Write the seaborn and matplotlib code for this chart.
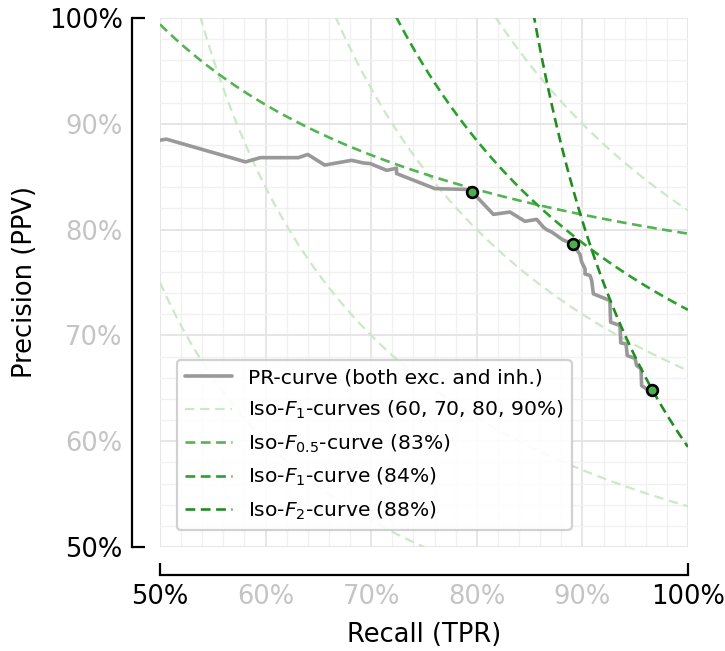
import numpy as np
import pandas as pd
import seaborn as sns
import matplotlib
matplotlib.use("Agg")
import matplotlib.pyplot as plt
from matplotlib.ticker import MultipleLocator

# ---------------- data ----------------
pr_recall = [0.500, 0.506, 0.581, 0.595, 0.631, 0.640, 0.656, 0.6815, 0.6925, 0.699,
             0.7147, 0.724, 0.724, 0.7604, 0.790, 0.7957, 0.8157, 0.8314, 0.8456,
             0.8567, 0.863, 0.866, 0.8709, 0.882, 0.8908, 0.8977, 0.8993, 0.9025,
             0.9025, 0.9072, 0.9088, 0.9104, 0.926, 0.9267, 0.9356, 0.9363, 0.9413,
             0.9425, 0.9498, 0.9514, 0.9555, 0.9561, 0.9609, 0.9662]
pr_precision = [0.8845, 0.8855, 0.864, 0.868, 0.868, 0.871, 0.861, 0.8655, 0.863, 0.8624,
                0.856, 0.858, 0.853, 0.8387, 0.838, 0.8355, 0.8144, 0.8166, 0.8078,
                0.8097, 0.8024, 0.800, 0.7977, 0.790, 0.7866, 0.7765, 0.7694, 0.763,
                0.758, 0.7566, 0.7519, 0.7393, 0.733, 0.7125, 0.7093, 0.6929, 0.692,
                0.6809, 0.6783, 0.6714, 0.6686, 0.6525, 0.6493, 0.6487]

opt_recall = [0.7957, 0.8908, 0.9662]
opt_precision = [0.8355, 0.7866, 0.6487]

iso_f1_levels = [0.60, 0.70, 0.80, 0.90]
iso_f05_level = 0.83
iso_f1_level = 0.84
iso_f2_level = 0.88

tick_values = [0.5, 0.6, 0.7, 0.8, 0.9, 1.0]
tick_labels = ["50%", "60%", "70%", "80%", "90%", "100%"]

legend_labels = ["PR-curve (both exc. and inh.)",
                 r"Iso-$F_1$-curves (60, 70, 80, 90%)",
                 r"Iso-$F_{0.5}$-curve (83%)",
                 r"Iso-$F_1$-curve (84%)",
                 r"Iso-$F_2$-curve (88%)"]


def iso_curve(f, beta):
    b2 = beta ** 2
    r_min = max(0.5, f * b2 / (1 + b2 - f) * 0.999)
    r = np.linspace(r_min, 1.0, 400)
    p = f * r / ((1 + b2) * r - f * b2)
    return pd.DataFrame({"recall": r, "precision": p})


# ---------------- style ----------------
sns.set_theme(style="white")
plt.rcParams["font.family"] = ["DejaVu Sans"]
plt.rcParams["mathtext.fontset"] = "dejavusans"
plt.rcParams["text.color"] = "black"
plt.rcParams["axes.labelcolor"] = "black"
plt.rcParams["xtick.color"] = "black"
plt.rcParams["ytick.color"] = "black"

fig = plt.figure(figsize=(7.25, 6.51), dpi=100)
ax = fig.add_axes([160 / 725, 1 - 547 / 651, 528 / 725, 529 / 651])

LIGHT = "#cbe9c6"
C05 = "#55b355"
C1 = "#2ca02c"
C2 = "#228b22"
GREY = "#999999"

# light iso-F1 curves
for i, f in enumerate(iso_f1_levels):
    line = sns.lineplot(data=iso_curve(f, 1.0), x="recall", y="precision", ax=ax,
                        color=LIGHT, lw=1.6, sort=False, estimator=None,
                        label=legend_labels[1] if i == 0 else "_nolegend_", zorder=2)
    ax.lines[-1].set_dashes((4.2, 2.6))

# PR curve
sns.lineplot(x=pr_recall, y=pr_precision, ax=ax, color=GREY, lw=2.6, sort=False,
             estimator=None, label=legend_labels[0], zorder=3)

# highlighted iso curves
for f, beta, col, lab in [(iso_f05_level, 0.5, C05, legend_labels[2]),
                          (iso_f1_level, 1.0, C1, legend_labels[3]),
                          (iso_f2_level, 2.0, C2, legend_labels[4])]:
    sns.lineplot(data=iso_curve(f, beta), x="recall", y="precision", ax=ax,
                 color=col, lw=1.9, sort=False, estimator=None,
                 label=lab, zorder=4)
    ax.lines[-1].set_dashes((3.7, 2.1))

# optimal points
sns.scatterplot(x=opt_recall, y=opt_precision, ax=ax, color="#4caf50", s=60,
                edgecolor="black", linewidth=1.9, zorder=6, legend=False)

ax.set_xlim(0.5, 1.0)
ax.set_ylim(0.5, 1.0)

sns.despine(ax=ax, offset=20)
for s in ("left", "bottom"):
    ax.spines[s].set_linewidth(1.6)
    ax.spines[s].set_color("black")
    ax.spines[s].set_bounds(0.5, 1.0)

# grid + ticks
ax.xaxis.set_minor_locator(MultipleLocator(0.02))
ax.yaxis.set_minor_locator(MultipleLocator(0.02))
ax.set_xticks(tick_values)
ax.set_yticks(tick_values)
ax.set_xticklabels(tick_labels)
ax.set_yticklabels(tick_labels)
ax.grid(which="major", color="#e4e4e4", lw=1.3)
ax.grid(which="minor", color="#f1f1f1", lw=1.0)
ax.set_axisbelow(True)
ax.tick_params(which="minor", length=0)
ax.tick_params(which="major", direction="in", length=9, width=1.6, color="black",
               labelsize=18.5, pad=7, bottom=True, left=True, labelcolor="black")

for axis in (ax.xaxis, ax.yaxis):
    for tick, lbl in zip(axis.get_major_ticks(), tick_labels):
        if lbl in ("50%", "100%"):
            tick.label1.set_color("black")
        else:
            tick.label1.set_color("#c4c4c4")
            tick.tick1line.set_visible(False)

ax.set_xlabel("Recall (TPR)", fontsize=18.5, labelpad=8, color="black")
ax.set_ylabel("Precision (PPV)", fontsize=18.5, labelpad=8, color="black")

# legend in reference order
handles, labels = ax.get_legend_handles_labels()
order = [labels.index(l) for l in legend_labels]
leg = ax.legend([handles[i] for i in order], [labels[i] for i in order],
                loc="lower left", bbox_to_anchor=(17 / 528, 17 / 529),
                borderaxespad=0, fontsize=14.6, handlelength=2.3,
                frameon=True, fancybox=True, framealpha=0.9,
                edgecolor="#cccccc", labelspacing=0.56)
leg.get_frame().set_linewidth(1.6)
leg.set_zorder(10)

fig.savefig("out.png", dpi=100)
